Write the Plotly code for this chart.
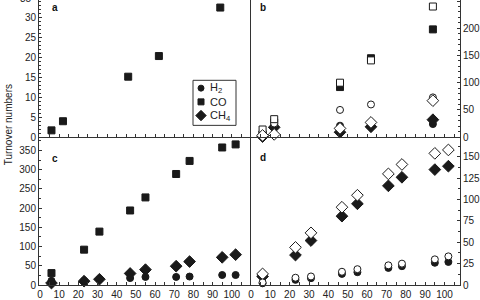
import plotly.graph_objects as go

# ---------------- data ----------------
t_ab = [6, 12, 46, 62, 94]
a_co = [1.7, 4.0, 15.2, 20.4, 32.6]

b_h2_filled = [2, 20, 21, 22, 24]
b_co_filled = [5, 27, 92, 145, 198]
b_ch4_filled = [1, 18, 9, 19, 32]
b_h2_open = [10, 25, 50, 60, 73]
b_co_open = [14, 33, 100, 141, 240]
b_ch4_open = [3, 5, 16, 27, 67]

t_cd = [6, 23, 31, 47, 55, 71, 78, 95, 102]
c_co = [31, 92, 139, 194, 228, 289, 323, 358, 366]
c_ch4 = [5, 10, 15, 30, 40, 49, 61, 72, 79]
c_h2 = [11, 11, 15, 18, 21, 21, 22, 26, 26]

d_ch4_filled = [10, 35, 52, 80.5, 95, 116, 126, 135, 139]
d_ch4_open = [13, 44, 61, 91, 105, 130, 141, 154, 158]
d_h2_filled = [2, 6, 8, 13, 15, 20, 22, 26, 27]
d_h2_open = [3, 8.5, 10, 15.5, 18.5, 23, 25, 30, 33.5]

legend_names = ["H<sub>2</sub>", "CO", "CH<sub>4</sub>"]
legend_symbols = ["circle", "square", "diamond"]

# ---------------- style ----------------
INK = "#1a1a1a"
AX = "#333333"
FONT = "Liberation Sans"
SIZES = {"circle": 7, "square": 7, "diamond": 9}


def pts(x, y, symbol, filled, xa, ya):
    return go.Scatter(
        x=x, y=y, mode="markers", xaxis=xa, yaxis=ya, showlegend=False,
        cliponaxis=False, hoverinfo="skip",
        marker=dict(symbol=symbol, size=SIZES[symbol],
                    color=INK if filled else "white",
                    line=dict(color=INK, width=1)))


W, H = 480, 300
L, R, T, B = 39, 20, 0, 9
pw, ph = W - L - R, H - T - B
xsplit = (250 - L) / pw
ysplit = (291 - 140) / ph

# legend box geometry (pixels)
LG_X0, LG_X1, LG_Y0, LG_Y1 = 193, 236, 82, 128
LG_ROWS = [90, 104, 118]
LG_MX, LG_TX = 201, 208

fig = go.Figure()
# panel a
fig.add_trace(pts(t_ab, a_co, "square", True, "x", "y"))
# panel b
fig.add_trace(pts(t_ab, b_h2_filled, "circle", True, "x2", "y2"))
fig.add_trace(pts(t_ab, b_co_filled, "square", True, "x2", "y2"))
fig.add_trace(pts(t_ab, b_ch4_filled, "diamond", True, "x2", "y2"))
fig.add_trace(pts(t_ab, b_h2_open, "circle", False, "x2", "y2"))
fig.add_trace(pts(t_ab, b_co_open, "square", False, "x2", "y2"))
fig.add_trace(pts(t_ab, b_ch4_open, "diamond", False, "x2", "y2"))
# panel c
fig.add_trace(pts(t_cd, c_co, "square", True, "x3", "y3"))
fig.add_trace(pts(t_cd, c_ch4, "diamond", True, "x3", "y3"))
fig.add_trace(pts(t_cd, c_h2, "circle", True, "x3", "y3"))
# panel d
fig.add_trace(pts(t_cd, d_ch4_filled, "diamond", True, "x4", "y4"))
fig.add_trace(pts(t_cd, d_h2_filled, "circle", True, "x4", "y4"))
fig.add_trace(pts(t_cd, d_ch4_open, "diamond", False, "x4", "y4"))
fig.add_trace(pts(t_cd, d_h2_open, "circle", False, "x4", "y4"))

# legend glyphs on a full-area helper axis measured in pixels
for sym, yrow in zip(legend_symbols, LG_ROWS):
    fig.add_trace(go.Scatter(x=[LG_MX], y=[yrow], mode="markers", xaxis="x5",
                             yaxis="y5", showlegend=False, hoverinfo="skip",
                             cliponaxis=False,
                             marker=dict(symbol=sym, size=SIZES[sym] - 1,
                                         color=INK, line=dict(color=INK, width=1))))

tickfont = dict(family=FONT, size=10, color="#222")


def xax(domain, rng, anchor, labels):
    return dict(domain=domain, range=rng, anchor=anchor, showgrid=False,
                zeroline=False, showline=True, linecolor=AX, linewidth=1,
                mirror=False,
                ticks="inside", ticklen=3, tickcolor=AX, tick0=0, dtick=10,
                minor=dict(dtick=5, ticks="inside", ticklen=3, tickcolor=AX),
                showticklabels=labels, tickfont=tickfont)


def yax(domain, rng, anchor, side, dtick, minor, mirror):
    return dict(domain=domain, range=rng, anchor=anchor, side=side,
                showgrid=False, zeroline=False, showline=True, linecolor=AX,
                linewidth=1, mirror=mirror, ticks="inside", ticklen=3,
                tickcolor=AX, tick0=0, dtick=dtick,
                minor=dict(dtick=minor, ticks="inside", ticklen=2, tickcolor=AX),
                tickfont=tickfont)


fig.update_layout(
    width=W, height=H, margin=dict(l=L, r=R, t=T, b=B),
    paper_bgcolor="white", plot_bgcolor="rgba(0,0,0,0)",
    font=dict(family=FONT, size=10, color="#222"),
    showlegend=False,
    xaxis=xax([0, xsplit], [-0.5, 109.5], "y", False),
    xaxis2=xax([xsplit, 1], [-0.5, 108], "y2", False),
    xaxis3=xax([0, xsplit], [-0.5, 109.5], "y3", True),
    xaxis4=xax([xsplit, 1], [-0.5, 108], "y4", True),
    yaxis=yax([ysplit, 1], [0, 34.5], "x", "left", 5, 1, True),
    yaxis2=yax([ysplit, 1], [0, 252], "x2", "right", 50, 10, False),
    yaxis3=yax([0, ysplit], [0, 385], "x3", "left", 50, 25, True),
    yaxis4=yax([0, ysplit], [0, 173], "x4", "right", 25, 12.5, False),
    xaxis5=dict(domain=[0, 1], range=[L, W - R], anchor="y5",
                visible=False, fixedrange=True),
    yaxis5=dict(domain=[0, 1], range=[291, 0], anchor="x5",
                visible=False, fixedrange=True),
)

fig.add_shape(type="rect", xref="paper", yref="paper",
              x0=(LG_X0 - L) / pw, x1=(LG_X1 - L) / pw,
              y0=(291 - LG_Y1) / ph, y1=(291 - LG_Y0) / ph,
              line=dict(color=AX, width=1), fillcolor="white", layer="below")
for name, yrow in zip(legend_names, LG_ROWS):
    fig.add_annotation(text=name, xref="paper", yref="paper",
                       x=(LG_TX - L) / pw, y=(291 - yrow) / ph,
                       xanchor="left", yanchor="middle", showarrow=False,
                       font=dict(family=FONT, size=11, color="#222"))

ann = [
    dict(text="<b>a</b>", x=(50 - L) / pw, y=1.0),
    dict(text="<b>b</b>", x=(258 - L) / pw, y=1.0),
    dict(text="<b>c</b>", x=(50 - L) / pw, y=(291 - 154) / ph),
    dict(text="<b>d</b>", x=(258 - L) / pw, y=(291 - 153) / ph),
]
for a in ann:
    fig.add_annotation(xref="paper", yref="paper", showarrow=False,
                       xanchor="left", yanchor="top",
                       font=dict(family=FONT, size=10, color="#111"), **a)

fig.add_annotation(text="Turnover numbers", xref="paper", yref="paper",
                   x=(8 - L) / pw, y=(291 - 128) / ph, textangle=-90,
                   showarrow=False, xanchor="center", yanchor="middle",
                   font=dict(family=FONT, size=10, color="#222"))
# partially visible top tick label of panel a
fig.add_annotation(text="35", xref="paper", yref="paper", x=-0.012, y=1.0,
                   yshift=2, xanchor="right", yanchor="middle", showarrow=False,
                   font=tickfont)

fig.write_html("out.html")
